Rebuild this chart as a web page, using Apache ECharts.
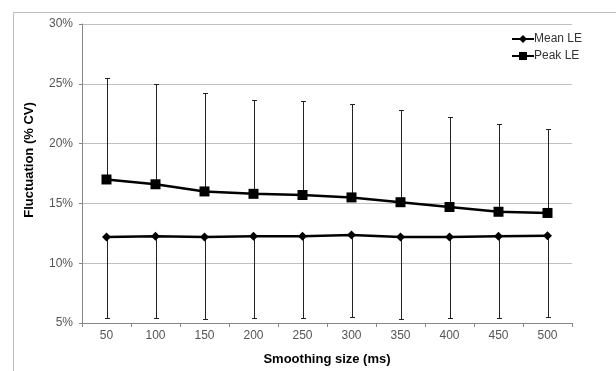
<!DOCTYPE html>
<html><head><meta charset="utf-8">
<script src="https://cdn.jsdelivr.net/npm/echarts@6/dist/echarts.min.js"></script>
<style>html,body{margin:0;padding:0;background:#fff}#c{width:616px;height:371px}</style>
</head><body><div id="c"></div>
<script>
const categories = ['50','100','150','200','250','300','350','400','450','500'];
const meanLE = [12.2, 12.25, 12.2, 12.25, 12.25, 12.35, 12.2, 12.2, 12.25, 12.3];
const peakLE = [17.0, 16.6, 16.0, 15.8, 15.7, 15.5, 15.1, 14.7, 14.3, 14.2];
const peakUpper = [25.45, 25.0, 24.25, 23.65, 23.55, 23.35, 22.8, 22.2, 21.6, 21.2];
const meanLower = [5.4, 5.4, 5.35, 5.4, 5.4, 5.5, 5.35, 5.4, 5.4, 5.5];
const yTicks = [5, 10, 15, 20, 25, 30];

const chart = echarts.init(document.getElementById('c'), null, {renderer:'canvas'});
const font = 'Liberation Sans, Arial, sans-serif';

function errItem(params, api) {
  const x = api.value(0);
  const p0 = api.coord([x, api.value(1)]);
  const p1 = api.coord([x, api.value(2)]);
  const px = Math.round(p0[0]) + 0.5;
  const py = Math.round(p1[1]) + 0.5;
  return {
    type: 'group',
    children: [
      {type:'line', shape:{x1:px, y1:p0[1], x2:px, y2:py}, style:{stroke:'#222', lineWidth:1}},
      {type:'line', shape:{x1:px-2.5, y1:py, x2:px+2.5, y2:py}, style:{stroke:'#222', lineWidth:1}}
    ]
  };
}

chart.setOption({
  animation: false,
  textStyle: {fontFamily: font},
  graphic: [
    {type:'rect', shape:{x:13.5, y:12.5, width:700, height:500}, style:{fill:'none', stroke:'#bdbdbd', lineWidth:1}, silent:true, z:-10},
    {type:'text', x:29, y:160, rotation: Math.PI/2, silent:true,
     style:{text:'Fluctuation (% CV)', font:'bold 13px Liberation Sans, Arial, sans-serif', fill:'#000', align:'center', verticalAlign:'middle'}}
  ],
  grid: {left: 82, right: 44, top: 24, bottom: 48},
  legend: {
    orient: 'vertical', left: 506, top: 28, itemGap: 5, itemWidth: 22, itemHeight: 10,
    textStyle: {fontFamily: font, fontSize: 12, color: '#333', padding:[0,0,0,-5]},
    data: ['Mean LE', 'Peak LE']
  },
  xAxis: {
    type: 'category', data: categories, boundaryGap: true,
    name: 'Smoothing size (ms)', nameLocation: 'middle', nameGap: 30,
    nameTextStyle: {fontFamily: font, fontWeight: 'bold', fontSize: 13, color: '#000'},
    axisLine: {lineStyle: {color: '#888', width: 1}},
    axisTick: {show: true, length: 4, lineStyle: {color: '#888'}},
    axisLabel: {fontFamily: font, fontSize: 12, color: '#555', margin: 7}
  },
  yAxis: {
    type: 'value', min: yTicks[0], max: yTicks[yTicks.length-1], interval: 5,
    axisLine: {show: true, lineStyle: {color: '#888', width: 1}},
    axisTick: {show: true, length: 3, lineStyle: {color: '#888'}},
    axisLabel: {fontFamily: font, fontSize: 12, color: '#555', margin: 9, formatter: '{value}%'},
    splitLine: {lineStyle: {color: '#c0c0c0', width: 1}}
  },
  series: [
    {type:'custom', name:'errPeak', renderItem: errItem, z: 1, silent: true,
     data: peakLE.map((v,i)=>[i, v, peakUpper[i]]), encode:{x:0, y:[1,2]}},
    {type:'custom', name:'errMean', renderItem: errItem, z: 1, silent: true,
     data: meanLE.map((v,i)=>[i, v, meanLower[i]]), encode:{x:0, y:[1,2]}},
    {type:'line', name:'Mean LE', data: meanLE, symbol:'diamond', symbolSize: 9, z: 3,
     lineStyle:{color:'#000', width:2.5}, itemStyle:{color:'#000'}},
    {type:'line', name:'Peak LE', data: peakLE, symbol:'rect', symbolSize: 10, z: 3,
     lineStyle:{color:'#000', width:2.5}, itemStyle:{color:'#000'}}
  ]
});
</script></body></html>
